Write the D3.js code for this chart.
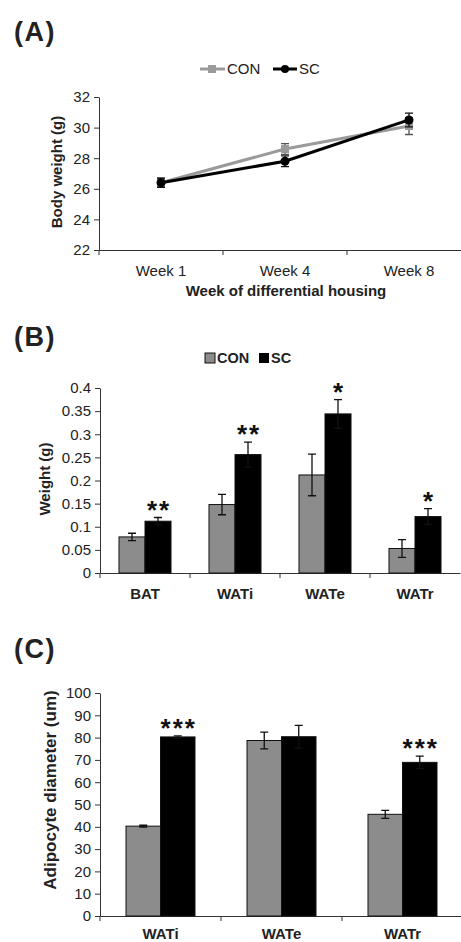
<!DOCTYPE html>
<html>
<head>
<meta charset="utf-8">
<script src="https://cdn.jsdelivr.net/npm/d3@7"></script>
<style>
body { margin: 0; background: #fff; }
svg { display: block; font-family: Arial, "Liberation Sans", sans-serif; }
</style>
</head>
<body>
<svg id="fig" width="461" height="942"></svg>
<script>
//DATA - PANEL A
const weeks = ['Week 1', 'Week 4', 'Week 8'];
const conWeight = [26.4, 28.6, 30.1];
const conWeightErr = [0.3, 0.35, 0.55];
const scWeight = [26.4, 27.8, 30.5];
const scWeightErr = [0.3, 0.35, 0.45];
const weightTicks = [22, 24, 26, 28, 30, 32];

//DATA - PANEL B
const depots = ['BAT', 'WATi', 'WATe', 'WATr'];
const conDepot = [0.078, 0.148, 0.212, 0.053];
const conDepotErr = [0.008, 0.022, 0.045, 0.019];
const scDepot = [0.112, 0.256, 0.344, 0.122];
const scDepotErr = [0.008, 0.027, 0.031, 0.017];
const depotStars = ['**', '**', '*', '*'];
const depotTicks = [0, 0.05, 0.1, 0.15, 0.2, 0.25, 0.3, 0.35, 0.4];

//DATA - PANEL C
const sizeDepots = ['WATi', 'WATe', 'WATr'];
const conDiam = [40.3, 78.7, 45.6];
const conDiamErr = [0.4, 3.8, 1.8];
const scDiam = [80.3, 80.4, 68.9];
const scDiamErr = [0.5, 5.1, 2.8];
const diamStars = ['***', '', '***'];
const diamTicks = [0, 10, 20, 30, 40, 50, 60, 70, 80, 90, 100];

const groups = ['CON', 'SC'];
const GREY = '#8c8c8c';
const LINEGREY = '#9a9a9a';

const svg = d3.select('#fig');

//HELPERS
function panelLetter(txt, y) {
    svg.append('text').attr('x', 14).attr('y', y)
        .attr('font-size', 27).attr('font-weight', 'bold').attr('letter-spacing', 1.5)
        .attr('fill', '#222').text(txt);
}

function styleAxis(g, size) {
    g.attr('font-family', null).attr('font-size', size);
    g.select('.domain').attr('stroke', '#333');
    g.selectAll('.tick line').attr('stroke', '#333');
    g.selectAll('.tick text').attr('fill', '#222');
}

function errBar(g, x, y0, y1, cap, color) {
    g.append('path')
        .attr('d', 'M' + x + ',' + y0 + 'V' + y1
            + 'M' + (x - cap) + ',' + y0 + 'H' + (x + cap)
            + 'M' + (x - cap) + ',' + y1 + 'H' + (x + cap))
        .attr('stroke', color).attr('stroke-width', 1.3).attr('fill', 'none');
}

function yTitle(txt, x, y, size) {
    svg.append('text').attr('transform', 'translate(' + x + ',' + y + ') rotate(-90)')
        .attr('text-anchor', 'middle').attr('font-size', size).attr('font-weight', 'bold')
        .attr('fill', '#222').text(txt);
}

//PANEL A - BODY WEIGHT
panelLetter('(A)', 41);
const xA = d3.scaleBand().domain(weeks).range([99, 471]);
const yA = d3.scaleLinear().domain([22, 32]).range([250, 97]);

const axA = svg.append('g').attr('transform', 'translate(99,0)')
    .call(d3.axisLeft(yA).tickValues(weightTicks).tickSize(5).tickSizeOuter(0).tickPadding(4));
styleAxis(axA, 15);

const axAx = svg.append('g').attr('transform', 'translate(0,250)')
    .call(d3.axisBottom(xA).tickSize(0).tickSizeOuter(0).tickPadding(15));
styleAxis(axAx, 15);
axAx.selectAll('.sep').data(weeks).join('line').attr('class', 'sep')
    .attr('x1', d => xA(d)).attr('x2', d => xA(d)).attr('y1', 0).attr('y2', 5).attr('stroke', '#333');

svg.append('text').attr('x', 286).attr('y', 296).attr('text-anchor', 'middle')
    .attr('font-size', 15).attr('font-weight', 'bold').attr('fill', '#222')
    .text('Week of differential housing');
yTitle('Body weight (g)', 62, 172, 15);

const lineA = d3.line().x((d, i) => xA(weeks[i]) + xA.bandwidth() / 2).y(d => yA(d));
const gA = svg.append('g');

//CON
weeks.forEach((w, i) => {
    const cx = xA(w) + xA.bandwidth() / 2;
    errBar(gA, cx, yA(conWeight[i] - conWeightErr[i]), yA(conWeight[i] + conWeightErr[i]), 4, '#555');
});
gA.append('path').datum(conWeight).attr('d', lineA)
    .attr('fill', 'none').attr('stroke', LINEGREY).attr('stroke-width', 3);
gA.selectAll('.sq').data(conWeight).join('rect').attr('class', 'sq')
    .attr('x', (d, i) => xA(weeks[i]) + xA.bandwidth() / 2 - 4).attr('y', d => yA(d) - 4)
    .attr('width', 8).attr('height', 8).attr('fill', LINEGREY);

//SC
weeks.forEach((w, i) => {
    const cx = xA(w) + xA.bandwidth() / 2;
    errBar(gA, cx, yA(scWeight[i] - scWeightErr[i]), yA(scWeight[i] + scWeightErr[i]), 4, '#111');
});
gA.append('path').datum(scWeight).attr('d', lineA)
    .attr('fill', 'none').attr('stroke', '#000').attr('stroke-width', 3);
gA.selectAll('.dot').data(scWeight).join('circle').attr('class', 'dot')
    .attr('cx', (d, i) => xA(weeks[i]) + xA.bandwidth() / 2).attr('cy', d => yA(d))
    .attr('r', 4.5).attr('fill', '#000');

//LEGEND A
const legA = svg.append('g').attr('transform', 'translate(0,69)');
legA.append('line').attr('x1', 200).attr('x2', 225).attr('stroke', LINEGREY).attr('stroke-width', 3);
legA.append('rect').attr('x', 208).attr('y', -4).attr('width', 8).attr('height', 8).attr('fill', LINEGREY);
legA.append('text').attr('x', 227).attr('dy', '.35em').attr('font-size', 15).attr('fill', '#222').text('CON');
legA.append('line').attr('x1', 273).attr('x2', 297).attr('stroke', '#000').attr('stroke-width', 3);
legA.append('circle').attr('cx', 285).attr('r', 4).attr('fill', '#000');
legA.append('text').attr('x', 299).attr('dy', '.35em').attr('font-size', 15).attr('fill', '#222').text('SC');

//GROUPED BARS (B and C)
function barPanel(cats, con, conErr, sc, scErr, stars, ticks, yDom, yRange, xRange, innerPad, labelY) {
    const x = d3.scaleBand().domain(cats).range(xRange);
    const xi = d3.scaleBand().domain(groups).range([0, x.bandwidth()]).paddingInner(0).paddingOuter(innerPad);
    const y = d3.scaleLinear().domain(yDom).range(yRange);

    const ay = svg.append('g').attr('transform', 'translate(' + xRange[0] + ',0)')
        .call(d3.axisLeft(y).tickValues(ticks).tickFormat(d => String(+d.toFixed(2)))
            .tickSize(5).tickSizeOuter(0).tickPadding(4));
    styleAxis(ay, 15);

    const ax = svg.append('g').attr('transform', 'translate(0,' + yRange[0] + ')')
        .call(d3.axisBottom(x).tickSize(0).tickSizeOuter(0).tickPadding(labelY));
    styleAxis(ax, 15);
    ax.selectAll('.tick text').attr('font-weight', 'bold');
    ax.selectAll('.sep').data(cats).join('line').attr('class', 'sep')
        .attr('x1', d => x(d)).attr('x2', d => x(d)).attr('y1', 0).attr('y2', 5).attr('stroke', '#333');

    const g = svg.append('g');
    cats.forEach((c, i) => {
        const vals = [con[i], sc[i]];
        const errs = [conErr[i], scErr[i]];
        groups.forEach((k, j) => {
            const bx = x(c) + xi(k);
            g.append('rect').attr('x', bx).attr('y', y(vals[j]))
                .attr('width', xi.bandwidth()).attr('height', y(yDom[0]) - y(vals[j]))
                .attr('fill', j === 0 ? GREY : '#000').attr('stroke', '#111').attr('stroke-width', 1);
            errBar(g, bx + xi.bandwidth() / 2, y(vals[j] - errs[j]), y(vals[j] + errs[j]), 4, '#111');
        });
        if (stars[i]) {
            g.append('text').attr('x', x(c) + xi('SC') + xi.bandwidth() / 2 + 1)
                .attr('y', y(sc[i] + scErr[i]) + 1)
                .attr('text-anchor', 'middle').attr('font-size', 26).attr('font-weight', 'bold')
                .attr('letter-spacing', 2).attr('fill', '#111').text(stars[i]);
        }
    });
}

//PANEL B - DEPOT WEIGHT
panelLetter('(B)', 346);
barPanel(depots, conDepot, conDepotErr, scDepot, scDepotErr, depotStars, depotTicks,
    [0, 0.4], [573, 388], [100, 460], 0.73, 15);
yTitle('Weight (g)', 50, 479, 15);

const legB = svg.append('g').attr('transform', 'translate(0,358)');
legB.append('rect').attr('x', 205).attr('y', -5).attr('width', 10).attr('height', 10)
    .attr('fill', GREY).attr('stroke', '#111');
legB.append('text').attr('x', 217).attr('dy', '.36em').attr('font-size', 14.5).attr('font-weight', 'bold')
    .attr('fill', '#222').text('CON');
legB.append('rect').attr('x', 259).attr('y', -5).attr('width', 10).attr('height', 10).attr('fill', '#000');
legB.append('text').attr('x', 271).attr('dy', '.36em').attr('font-size', 14.5).attr('font-weight', 'bold')
    .attr('fill', '#222').text('SC');

//PANEL C - ADIPOCYTE SIZE
panelLetter('(C)', 658);
barPanel(sizeDepots, conDiam, conDiamErr, scDiam, scDiamErr, diamStars, diamTicks,
    [0, 100], [916, 693], [100, 463], 0.754, 12);
yTitle('Adipocyte diameter (um)', 56, 790, 17);
</script>
</body>
</html>
